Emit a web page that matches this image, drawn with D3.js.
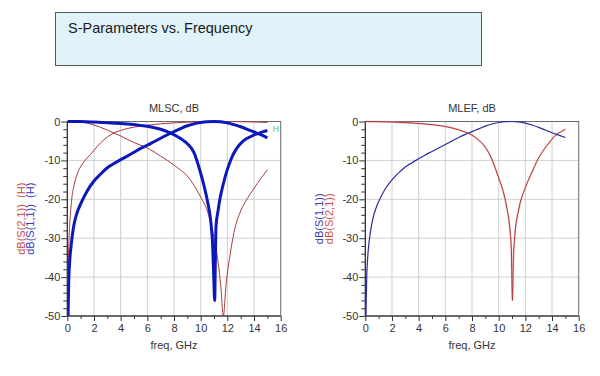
<!DOCTYPE html>
<html><head><meta charset="utf-8">
<script src="https://cdn.jsdelivr.net/npm/d3@7/dist/d3.min.js"></script>
<style>
body{margin:0;background:#fff;}
svg{display:block;font-family:"Liberation Sans",Arial,sans-serif;}
</style></head>
<body><svg id="c" width="600" height="376"></svg>
<script>
// ---- data ----
const xTicks = [0,2,4,6,8,10,12,14,16];
const xMinor = [1,3,5,7,9,11,13,15];
const yTicks = [0,-10,-20,-30,-40,-50];
const yMinor = [-2,-4,-6,-8,-12,-14,-16,-18,-22,-24,-26,-28,-32,-34,-36,-38,-42,-44,-46,-48];

// MLSC panel: thick blue S(1,1) curves
const mlscS11aFreq = [0.06,0.1,0.2,0.3,0.45,0.6,0.8,1,1.5,2,2.5,3,3.5,4,4.5,5,5.5,6,6.5,7,7.5,8,8.5,9,9.5,10,10.5,11,11.5,12,12.5,13,13.5,14,14.5,15];
const mlscS11a     = [-50,-42,-35,-31.5,-27.5,-25,-22.8,-21.2,-17.8,-15.3,-13.5,-11.9,-10.8,-9.8,-8.9,-7.9,-6.9,-6.1,-5.2,-4.3,-3.4,-2.6,-1.8,-1.1,-0.6,-0.25,-0.05,0,-0.08,-0.35,-0.8,-1.35,-2.0,-2.7,-3.4,-4.2];
const mlscS11bFreq = [0,1,2,3,4,5,6,7,7.5,8,8.5,9,9.5,10,10.25,10.5,10.75,10.9,10.98,11.05,11.1,11.15,11.3,11.45,11.7,11.95,12.3,12.7,13.1,13.45,13.9,14.3,14.7,15];
const mlscS11b     = [0,-0.03,-0.15,-0.3,-0.5,-0.8,-1.2,-2.0,-2.6,-3.4,-4.4,-5.7,-8.0,-13.3,-16.5,-20.3,-25.5,-32,-40,-46,-36,-27,-23,-19.8,-16,-12.9,-9.5,-6.9,-5.3,-4.4,-3.6,-3.1,-2.6,-2.3];
// MLSC panel: thin red S(2,1) curves
const mlscS21aFreq = [0.03,0.06,0.1,0.13,0.2,0.33,0.5,0.75,1,1.33,1.75,2,2.5,3,3.45,4,4.5,5,6,7,8,9,10,11,11.7,12,13,14,15];
const mlscS21a     = [-50,-40,-33,-30,-25.5,-20,-16.5,-13.5,-11.6,-10,-8.4,-7.4,-5.5,-4.0,-3.0,-2.3,-1.8,-1.45,-0.95,-0.6,-0.35,-0.18,-0.07,-0.01,0,-0.01,-0.05,-0.12,-0.25];
const mlscS21bFreq = [0,0.5,1,1.5,2,2.5,3,3.45,4,4.5,5,5.5,6,6.5,7,7.5,8,8.5,9,9.5,10,10.5,11,11.3,11.5,11.7,11.9,12.2,12.5,12.7,13,13.5,14,14.5,15];
const mlscS21b     = [0,-0.02,-0.1,-0.4,-0.9,-1.5,-2.2,-2.9,-3.7,-4.6,-5.4,-6.1,-6.8,-7.8,-8.9,-10.0,-11.2,-12.5,-14.0,-16.4,-19.4,-23.0,-30,-36,-42,-50,-42,-34.4,-28.5,-25.8,-23,-19.8,-17.2,-14.7,-12.4];

// MLEF panel
const mlefS11Freq = [0.05,0.1,0.2,0.3,0.45,0.6,0.8,1,1.5,2,2.5,3,3.5,4,4.5,5,5.5,6,6.5,7,7.5,8,8.5,9,9.5,10,10.5,11,11.5,12,12.5,13,13.5,14,14.5,15];
const mlefS11     = [-50,-41,-34,-30.5,-27,-24.5,-22.3,-20.6,-17.3,-15.0,-13.2,-11.7,-10.6,-9.6,-8.6,-7.7,-6.8,-5.9,-5.0,-4.1,-3.3,-2.6,-1.9,-1.2,-0.65,-0.25,-0.05,0,-0.1,-0.4,-0.9,-1.5,-2.2,-2.9,-3.5,-4.1];
const mlefS21Freq = [0,1,2,3,4,5,6,7,7.5,8,8.5,9,9.5,10,10.3,10.6,10.85,10.95,11.03,11.1,11.22,11.47,12,12.5,12.85,13.4,13.85,14.3,14.7,15];
const mlefS21     = [0,-0.04,-0.14,-0.3,-0.5,-0.81,-1.29,-2.14,-2.74,-3.5,-4.8,-6.6,-9.8,-14.5,-17.5,-22,-28,-33,-46,-36,-29,-23.2,-17,-13,-10.3,-7.2,-5.2,-3.4,-2.6,-2.0];

const titleText = "S-Parameters vs. Frequency";

// ---- drawing ----
const svg = d3.select("#c");
svg.append("rect").attr("width",600).attr("height",376).attr("fill","#fff");

// title box
svg.append("rect").attr("x",55.5).attr("y",12.5).attr("width",426).attr("height",53)
  .attr("fill","#dff3f8").attr("stroke","#5a5a5a").attr("stroke-width",1);
svg.append("text").attr("x",68).attr("y",33).attr("font-size",14.5).attr("fill","#1a1a1a").text(titleText);

const Y0 = 121.5, Y1 = 316;
const zip = (f,v) => f.map((d,i)=>[d,v[i]]);

function panel(id, left, right, title, series, ylabels, hMark){
  const x = d3.scaleLinear().domain([0,16]).range([left,right]);
  const y = d3.scaleLinear().domain([0,-50]).range([Y0,Y1]);
  const g = svg.append("g");
  // grid
  g.selectAll(".gx").data(xTicks.slice(1,-1)).join("line")
    .attr("x1",d=>x(d)).attr("x2",d=>x(d)).attr("y1",Y0).attr("y2",Y1)
    .attr("stroke","#cfcfcf").attr("stroke-width",1);
  g.selectAll(".gy").data(yTicks.slice(1,-1)).join("line")
    .attr("x1",left).attr("x2",right).attr("y1",d=>y(d)).attr("y2",d=>y(d))
    .attr("stroke","#cfcfcf").attr("stroke-width",1);
  // axes
  const ax = d3.axisBottom(x).tickValues(xTicks).tickSize(5).tickPadding(3).tickFormat(d=>String(d));
  const axm = d3.axisBottom(x).tickValues(xMinor).tickSize(3).tickFormat("");
  const ay = d3.axisLeft(y).tickValues(yTicks).tickSize(6).tickPadding(1).tickFormat(d=>String(d));
  const aym = d3.axisLeft(y).tickValues(yMinor).tickSize(4).tickFormat("");
  [[ax,`translate(0,${Y1})`],[axm,`translate(0,${Y1})`],[ay,`translate(${left},0)`],[aym,`translate(${left},0)`]].forEach(([a,t])=>{
    const s = g.append("g").attr("transform",t).call(a);
    s.select(".domain").remove();
    s.selectAll("line").attr("stroke","#333");
    s.selectAll("text").attr("font-size",11).attr("fill","#333").attr("font-family","Liberation Sans, Arial, sans-serif");
  });
  // frame
  g.append("rect").attr("x",left).attr("y",Y0).attr("width",right-left).attr("height",Y1-Y0)
    .attr("fill","none").attr("stroke","#6a6a6a").attr("stroke-width",1);
  g.append("line").attr("x1",left).attr("x2",left).attr("y1",Y0).attr("y2",Y1).attr("stroke","#222");
  g.append("line").attr("x1",left).attr("x2",right).attr("y1",Y1).attr("y2",Y1).attr("stroke","#222");
  // clip
  svg.append("clipPath").attr("id",id).append("rect").attr("x",left).attr("y",Y0-2).attr("width",right-left).attr("height",Y1-Y0+2);
  const line = d3.line().x(d=>x(d[0])).y(d=>y(d[1])).curve(d3.curveMonotoneX);
  const cg = svg.append("g").attr("clip-path",`url(#${id})`);
  series.forEach(s=>{
    if(s.halo) cg.append("path").attr("d",line(s.data)).attr("fill","none")
      .attr("stroke",s.halo).attr("stroke-width",s.w+1).attr("stroke-linejoin","round");
    cg.append("path").attr("d",line(s.data)).attr("fill","none")
      .attr("stroke",s.color).attr("stroke-width",s.w).attr("stroke-linejoin","round");
  });
  // titles
  const cx = (left+right)/2;
  svg.append("text").attr("x",cx).attr("y",112).attr("text-anchor","middle").attr("font-size",11).attr("fill","#333").text(title);
  svg.append("text").attr("x",cx).attr("y",349).attr("text-anchor","middle").attr("font-size",11).attr("fill","#333").text("freq, GHz");
  ylabels.forEach(l=>{
    svg.append("text").attr("transform",`translate(${l.x},${(Y0+Y1)/2}) rotate(-90)`)
      .attr("text-anchor","middle").attr("font-size",11).attr("fill",l.color).attr("xml:space","preserve").text(l.text);
  });
  if(hMark) svg.append("text").attr("x",272.5).attr("y",132).attr("font-size",9).attr("fill","#55d055").text("H");
}

panel("clipL", 67.3, 280.7, "MLSC, dB", [
  {data: zip(mlscS21aFreq, mlscS21a), color:"#a83a3a", w:1},
  {data: zip(mlscS21bFreq, mlscS21b), color:"#a83a3a", w:1},
  {data: zip(mlscS11aFreq, mlscS11a), color:"#0c18b8", w:3},
  {data: zip(mlscS11bFreq, mlscS11b), color:"#0c18b8", w:3}
], [
  {x:25, color:"#c84a4a", text:"dB(S(2,1))  (H)"},
  {x:34, color:"#3a3ac0", text:"dB(S(1,1))  (H)"}
], true);

panel("clipR", 365.3, 578.7, "MLEF, dB", [
  {data: zip(mlefS21Freq, mlefS21), color:"#b03030", w:1, halo:"rgba(235,170,170,0.5)"},
  {data: zip(mlefS11Freq, mlefS11), color:"#2a2aa0", w:1.2}
], [
  {x:323, color:"#3a3ac0", text:"dB(S(1,1))"},
  {x:333, color:"#d05050", text:"dB(S(2,1))"}
], false);
</script></body></html>
